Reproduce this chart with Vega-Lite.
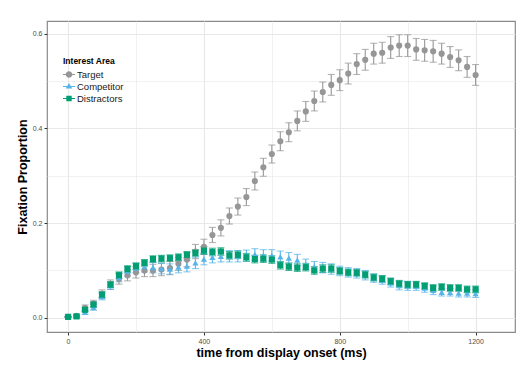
{
  "$schema": "https://vega.github.io/schema/vega-lite/v6.json",
  "width": 468,
  "height": 311,
  "autosize": {"type": "none"},
  "padding": {"left": 47, "top": 21, "right": 11, "bottom": 39},
  "background": "white",
  "config": {
    "font": "Liberation Sans",
    "view": {"stroke": "#8a8a8a", "strokeWidth": 1.2},
    "axis": {
      "domain": false,
      "gridColor": "#e8e8e8",
      "tickColor": "#333333",
      "tickSize": 3,
      "labelColor": "#4d4d4d",
      "labelFontSize": 7,
      "labelFont": "Liberation Sans",
      "titleFont": "Liberation Sans",
      "titleFontWeight": "bold",
      "titleFontSize": 12.5,
      "titleColor": "#000000"
    }
  },
  "data": {
    "values": [
      {"t":0,"area":"Target","p":0.002,"lo":0.001,"hi":0.003},
      {"t":25,"area":"Target","p":0.004,"lo":0.002,"hi":0.006},
      {"t":50,"area":"Target","p":0.021,"lo":0.015,"hi":0.027},
      {"t":75,"area":"Target","p":0.030,"lo":0.023,"hi":0.037},
      {"t":100,"area":"Target","p":0.050,"lo":0.041,"hi":0.059},
      {"t":125,"area":"Target","p":0.070,"lo":0.060,"hi":0.080},
      {"t":150,"area":"Target","p":0.082,"lo":0.071,"hi":0.093},
      {"t":175,"area":"Target","p":0.090,"lo":0.078,"hi":0.102},
      {"t":200,"area":"Target","p":0.096,"lo":0.084,"hi":0.108},
      {"t":225,"area":"Target","p":0.100,"lo":0.087,"hi":0.113},
      {"t":250,"area":"Target","p":0.100,"lo":0.087,"hi":0.113},
      {"t":275,"area":"Target","p":0.102,"lo":0.089,"hi":0.115},
      {"t":300,"area":"Target","p":0.105,"lo":0.091,"hi":0.119},
      {"t":325,"area":"Target","p":0.114,"lo":0.100,"hi":0.128},
      {"t":350,"area":"Target","p":0.123,"lo":0.108,"hi":0.138},
      {"t":375,"area":"Target","p":0.140,"lo":0.125,"hi":0.155},
      {"t":400,"area":"Target","p":0.150,"lo":0.134,"hi":0.166},
      {"t":425,"area":"Target","p":0.175,"lo":0.159,"hi":0.191},
      {"t":450,"area":"Target","p":0.190,"lo":0.173,"hi":0.207},
      {"t":475,"area":"Target","p":0.215,"lo":0.198,"hi":0.232},
      {"t":500,"area":"Target","p":0.235,"lo":0.217,"hi":0.253},
      {"t":525,"area":"Target","p":0.255,"lo":0.237,"hi":0.273},
      {"t":550,"area":"Target","p":0.289,"lo":0.270,"hi":0.308},
      {"t":575,"area":"Target","p":0.318,"lo":0.299,"hi":0.337},
      {"t":600,"area":"Target","p":0.346,"lo":0.327,"hi":0.365},
      {"t":625,"area":"Target","p":0.373,"lo":0.353,"hi":0.393},
      {"t":650,"area":"Target","p":0.392,"lo":0.372,"hi":0.412},
      {"t":675,"area":"Target","p":0.416,"lo":0.395,"hi":0.437},
      {"t":700,"area":"Target","p":0.436,"lo":0.415,"hi":0.457},
      {"t":725,"area":"Target","p":0.458,"lo":0.437,"hi":0.479},
      {"t":750,"area":"Target","p":0.477,"lo":0.456,"hi":0.498},
      {"t":775,"area":"Target","p":0.492,"lo":0.470,"hi":0.514},
      {"t":800,"area":"Target","p":0.502,"lo":0.480,"hi":0.524},
      {"t":825,"area":"Target","p":0.516,"lo":0.494,"hi":0.538},
      {"t":850,"area":"Target","p":0.536,"lo":0.514,"hi":0.558},
      {"t":875,"area":"Target","p":0.545,"lo":0.523,"hi":0.567},
      {"t":900,"area":"Target","p":0.558,"lo":0.536,"hi":0.580},
      {"t":925,"area":"Target","p":0.560,"lo":0.538,"hi":0.582},
      {"t":950,"area":"Target","p":0.571,"lo":0.548,"hi":0.594},
      {"t":975,"area":"Target","p":0.575,"lo":0.552,"hi":0.598},
      {"t":1000,"area":"Target","p":0.575,"lo":0.552,"hi":0.598},
      {"t":1025,"area":"Target","p":0.567,"lo":0.544,"hi":0.590},
      {"t":1050,"area":"Target","p":0.565,"lo":0.542,"hi":0.588},
      {"t":1075,"area":"Target","p":0.563,"lo":0.540,"hi":0.586},
      {"t":1100,"area":"Target","p":0.558,"lo":0.536,"hi":0.580},
      {"t":1125,"area":"Target","p":0.551,"lo":0.529,"hi":0.573},
      {"t":1150,"area":"Target","p":0.544,"lo":0.522,"hi":0.566},
      {"t":1175,"area":"Target","p":0.530,"lo":0.508,"hi":0.552},
      {"t":1200,"area":"Target","p":0.513,"lo":0.491,"hi":0.535},
      {"t":0,"area":"Competitor","p":0.002,"lo":0.001,"hi":0.003},
      {"t":25,"area":"Competitor","p":0.004,"lo":0.002,"hi":0.006},
      {"t":50,"area":"Competitor","p":0.012,"lo":0.007,"hi":0.017},
      {"t":75,"area":"Competitor","p":0.022,"lo":0.016,"hi":0.028},
      {"t":100,"area":"Competitor","p":0.045,"lo":0.038,"hi":0.052},
      {"t":125,"area":"Competitor","p":0.068,"lo":0.060,"hi":0.076},
      {"t":150,"area":"Competitor","p":0.085,"lo":0.076,"hi":0.094},
      {"t":175,"area":"Competitor","p":0.098,"lo":0.088,"hi":0.108},
      {"t":200,"area":"Competitor","p":0.105,"lo":0.095,"hi":0.115},
      {"t":225,"area":"Competitor","p":0.108,"lo":0.097,"hi":0.119},
      {"t":250,"area":"Competitor","p":0.106,"lo":0.095,"hi":0.117},
      {"t":275,"area":"Competitor","p":0.104,"lo":0.093,"hi":0.115},
      {"t":300,"area":"Competitor","p":0.103,"lo":0.092,"hi":0.114},
      {"t":325,"area":"Competitor","p":0.107,"lo":0.095,"hi":0.119},
      {"t":350,"area":"Competitor","p":0.109,"lo":0.097,"hi":0.121},
      {"t":375,"area":"Competitor","p":0.116,"lo":0.104,"hi":0.128},
      {"t":400,"area":"Competitor","p":0.124,"lo":0.112,"hi":0.136},
      {"t":425,"area":"Competitor","p":0.128,"lo":0.116,"hi":0.140},
      {"t":450,"area":"Competitor","p":0.130,"lo":0.118,"hi":0.142},
      {"t":475,"area":"Competitor","p":0.130,"lo":0.118,"hi":0.142},
      {"t":500,"area":"Competitor","p":0.130,"lo":0.118,"hi":0.142},
      {"t":525,"area":"Competitor","p":0.131,"lo":0.119,"hi":0.143},
      {"t":550,"area":"Competitor","p":0.134,"lo":0.122,"hi":0.146},
      {"t":575,"area":"Competitor","p":0.132,"lo":0.120,"hi":0.144},
      {"t":600,"area":"Competitor","p":0.132,"lo":0.120,"hi":0.144},
      {"t":625,"area":"Competitor","p":0.129,"lo":0.117,"hi":0.141},
      {"t":650,"area":"Competitor","p":0.126,"lo":0.114,"hi":0.138},
      {"t":675,"area":"Competitor","p":0.122,"lo":0.110,"hi":0.134},
      {"t":700,"area":"Competitor","p":0.113,"lo":0.102,"hi":0.124},
      {"t":725,"area":"Competitor","p":0.108,"lo":0.097,"hi":0.119},
      {"t":750,"area":"Competitor","p":0.106,"lo":0.095,"hi":0.117},
      {"t":775,"area":"Competitor","p":0.103,"lo":0.092,"hi":0.114},
      {"t":800,"area":"Competitor","p":0.099,"lo":0.089,"hi":0.109},
      {"t":825,"area":"Competitor","p":0.096,"lo":0.086,"hi":0.106},
      {"t":850,"area":"Competitor","p":0.094,"lo":0.084,"hi":0.104},
      {"t":875,"area":"Competitor","p":0.090,"lo":0.080,"hi":0.100},
      {"t":900,"area":"Competitor","p":0.084,"lo":0.075,"hi":0.093},
      {"t":925,"area":"Competitor","p":0.080,"lo":0.071,"hi":0.089},
      {"t":950,"area":"Competitor","p":0.074,"lo":0.065,"hi":0.083},
      {"t":975,"area":"Competitor","p":0.068,"lo":0.059,"hi":0.077},
      {"t":1000,"area":"Competitor","p":0.067,"lo":0.058,"hi":0.076},
      {"t":1025,"area":"Competitor","p":0.067,"lo":0.058,"hi":0.076},
      {"t":1050,"area":"Competitor","p":0.063,"lo":0.054,"hi":0.072},
      {"t":1075,"area":"Competitor","p":0.058,"lo":0.049,"hi":0.067},
      {"t":1100,"area":"Competitor","p":0.054,"lo":0.046,"hi":0.062},
      {"t":1125,"area":"Competitor","p":0.054,"lo":0.046,"hi":0.062},
      {"t":1150,"area":"Competitor","p":0.052,"lo":0.044,"hi":0.060},
      {"t":1175,"area":"Competitor","p":0.052,"lo":0.044,"hi":0.060},
      {"t":1200,"area":"Competitor","p":0.051,"lo":0.043,"hi":0.059},
      {"t":0,"area":"Distractors","p":0.002,"lo":0.001,"hi":0.003},
      {"t":25,"area":"Distractors","p":0.003,"lo":0.001,"hi":0.005},
      {"t":50,"area":"Distractors","p":0.017,"lo":0.013,"hi":0.021},
      {"t":75,"area":"Distractors","p":0.028,"lo":0.023,"hi":0.033},
      {"t":100,"area":"Distractors","p":0.049,"lo":0.043,"hi":0.055},
      {"t":125,"area":"Distractors","p":0.070,"lo":0.064,"hi":0.076},
      {"t":150,"area":"Distractors","p":0.090,"lo":0.083,"hi":0.097},
      {"t":175,"area":"Distractors","p":0.103,"lo":0.096,"hi":0.110},
      {"t":200,"area":"Distractors","p":0.109,"lo":0.102,"hi":0.116},
      {"t":225,"area":"Distractors","p":0.116,"lo":0.109,"hi":0.123},
      {"t":250,"area":"Distractors","p":0.124,"lo":0.117,"hi":0.131},
      {"t":275,"area":"Distractors","p":0.125,"lo":0.118,"hi":0.132},
      {"t":300,"area":"Distractors","p":0.126,"lo":0.119,"hi":0.133},
      {"t":325,"area":"Distractors","p":0.128,"lo":0.121,"hi":0.135},
      {"t":350,"area":"Distractors","p":0.133,"lo":0.126,"hi":0.140},
      {"t":375,"area":"Distractors","p":0.137,"lo":0.130,"hi":0.144},
      {"t":400,"area":"Distractors","p":0.142,"lo":0.134,"hi":0.150},
      {"t":425,"area":"Distractors","p":0.139,"lo":0.131,"hi":0.147},
      {"t":450,"area":"Distractors","p":0.140,"lo":0.132,"hi":0.148},
      {"t":475,"area":"Distractors","p":0.132,"lo":0.124,"hi":0.140},
      {"t":500,"area":"Distractors","p":0.133,"lo":0.125,"hi":0.141},
      {"t":525,"area":"Distractors","p":0.128,"lo":0.120,"hi":0.136},
      {"t":550,"area":"Distractors","p":0.124,"lo":0.116,"hi":0.132},
      {"t":575,"area":"Distractors","p":0.125,"lo":0.117,"hi":0.133},
      {"t":600,"area":"Distractors","p":0.123,"lo":0.115,"hi":0.131},
      {"t":625,"area":"Distractors","p":0.111,"lo":0.103,"hi":0.119},
      {"t":650,"area":"Distractors","p":0.108,"lo":0.100,"hi":0.116},
      {"t":675,"area":"Distractors","p":0.106,"lo":0.098,"hi":0.114},
      {"t":700,"area":"Distractors","p":0.107,"lo":0.099,"hi":0.115},
      {"t":725,"area":"Distractors","p":0.100,"lo":0.092,"hi":0.108},
      {"t":750,"area":"Distractors","p":0.104,"lo":0.096,"hi":0.112},
      {"t":775,"area":"Distractors","p":0.104,"lo":0.096,"hi":0.112},
      {"t":800,"area":"Distractors","p":0.099,"lo":0.092,"hi":0.106},
      {"t":825,"area":"Distractors","p":0.096,"lo":0.089,"hi":0.103},
      {"t":850,"area":"Distractors","p":0.095,"lo":0.088,"hi":0.102},
      {"t":875,"area":"Distractors","p":0.091,"lo":0.084,"hi":0.098},
      {"t":900,"area":"Distractors","p":0.085,"lo":0.078,"hi":0.092},
      {"t":925,"area":"Distractors","p":0.082,"lo":0.075,"hi":0.089},
      {"t":950,"area":"Distractors","p":0.077,"lo":0.070,"hi":0.084},
      {"t":975,"area":"Distractors","p":0.072,"lo":0.065,"hi":0.079},
      {"t":1000,"area":"Distractors","p":0.070,"lo":0.063,"hi":0.077},
      {"t":1025,"area":"Distractors","p":0.070,"lo":0.063,"hi":0.077},
      {"t":1050,"area":"Distractors","p":0.067,"lo":0.060,"hi":0.074},
      {"t":1075,"area":"Distractors","p":0.063,"lo":0.056,"hi":0.070},
      {"t":1100,"area":"Distractors","p":0.065,"lo":0.058,"hi":0.072},
      {"t":1125,"area":"Distractors","p":0.063,"lo":0.056,"hi":0.070},
      {"t":1150,"area":"Distractors","p":0.063,"lo":0.056,"hi":0.070},
      {"t":1175,"area":"Distractors","p":0.060,"lo":0.053,"hi":0.067},
      {"t":1200,"area":"Distractors","p":0.060,"lo":0.053,"hi":0.067}
    ]
  },
  "encoding": {
    "x": {
      "field": "t", "type": "quantitative",
      "scale": {"domain": [-62, 1316], "nice": false, "zero": false},
      "axis": {
        "title": "time from display onset (ms)",
        "values": [0, 200, 400, 600, 800, 1000, 1200],
        "labelExpr": "datum.value % 400 === 0 ? datum.label : ''",
        "tickOpacity": {"condition": {"test": "datum.value % 400 !== 0", "value": 0}, "value": 1},
        "gridWidth": {"condition": {"test": "datum.value % 400 !== 0", "value": 0.6}, "value": 1.1},
        "format": "d",
        "labelPadding": 2,
        "titlePadding": 2
      }
    }
  },
  "layer": [
    {
      "mark": {"type": "errorbar", "ticks": {"size": 7}, "thickness": 1.1},
      "encoding": {
        "y": {
          "field": "lo", "type": "quantitative",
          "scale": {"domain": [-0.03, 0.627], "nice": false, "zero": false},
          "axis": {
            "title": "Fixation Proportion",
            "values": [0, 0.1, 0.2, 0.3, 0.4, 0.5, 0.6],
            "format": ".1f",
            "labelExpr": "round(datum.value * 10) % 2 === 0 ? datum.label : ''",
            "tickOpacity": {"condition": {"test": "round(datum.value * 10) % 2 !== 0", "value": 0}, "value": 1},
            "gridWidth": {"condition": {"test": "round(datum.value * 10) % 2 !== 0", "value": 0.6}, "value": 1.1},
            "labelPadding": 2,
            "titlePadding": 3
          }
        },
        "y2": {"field": "hi"},
        "color": {
          "field": "area", "type": "nominal", "legend": null,
          "scale": {"domain": ["Target", "Competitor", "Distractors"], "range": ["#969696", "#56B4E9", "#009E73"]}
        }
      }
    },
    {
      "mark": {"type": "point", "filled": true, "opacity": 1, "size": 38},
      "encoding": {
        "y": {"field": "p", "type": "quantitative"},
        "color": {"field": "area", "type": "nominal", "legend": null},
        "shape": {
          "field": "area", "type": "nominal", "legend": null,
          "scale": {"domain": ["Target", "Competitor", "Distractors"], "range": ["circle", "triangle-up", "square"]}
        }
      }
    },
    {
      "transform": [{"filter": "false"}],
      "mark": {"type": "point", "filled": true, "opacity": 1},
      "encoding": {
        "y": {"field": "p", "type": "quantitative"},
        "color": {
          "field": "area", "type": "nominal",
          "legend": {
            "title": "Interest Area",
            "orient": "none", "legendX": 16, "legendY": 36,
            "titleFontSize": 8.5, "titleFontWeight": "bold", "titleColor": "#000000",
            "labelFontSize": 9.5, "labelColor": "#1a1a1a", "labelOffset": 2,
            "symbolSize": 144, "symbolStrokeWidth": 0, "symbolOpacity": 1, "rowPadding": 1, "titlePadding": 3,
            "padding": 0
          }
        },
        "shape": {
          "field": "area", "type": "nominal",
          "scale": {
            "domain": ["Target", "Competitor", "Distractors"],
            "range": [
              "M-1,-0.09H1V0.09H-1Z M0.55,0A0.55,0.55 0 1,1 -0.55,0A0.55,0.55 0 1,1 0.55,0Z",
              "M-1,-0.09H1V0.09H-1Z M0,-0.6L0.55,0.35L-0.55,0.35Z",
              "M-1,-0.09H1V0.09H-1Z M-0.45,-0.45H0.45V0.45H-0.45Z"
            ]
          },
          "legend": {
            "title": "Interest Area",
            "orient": "none", "legendX": 16, "legendY": 36,
            "titleFontSize": 8.5, "titleFontWeight": "bold", "titleColor": "#000000",
            "labelFontSize": 9.5, "labelColor": "#1a1a1a", "labelOffset": 2,
            "symbolSize": 144, "symbolStrokeWidth": 0, "symbolOpacity": 1, "rowPadding": 1, "titlePadding": 3,
            "padding": 0
          }
        }
      }
    }
  ],
  "resolve": {
    "scale": {"shape": "independent"},
    "legend": {"color": "independent", "shape": "independent"}
  }
}
